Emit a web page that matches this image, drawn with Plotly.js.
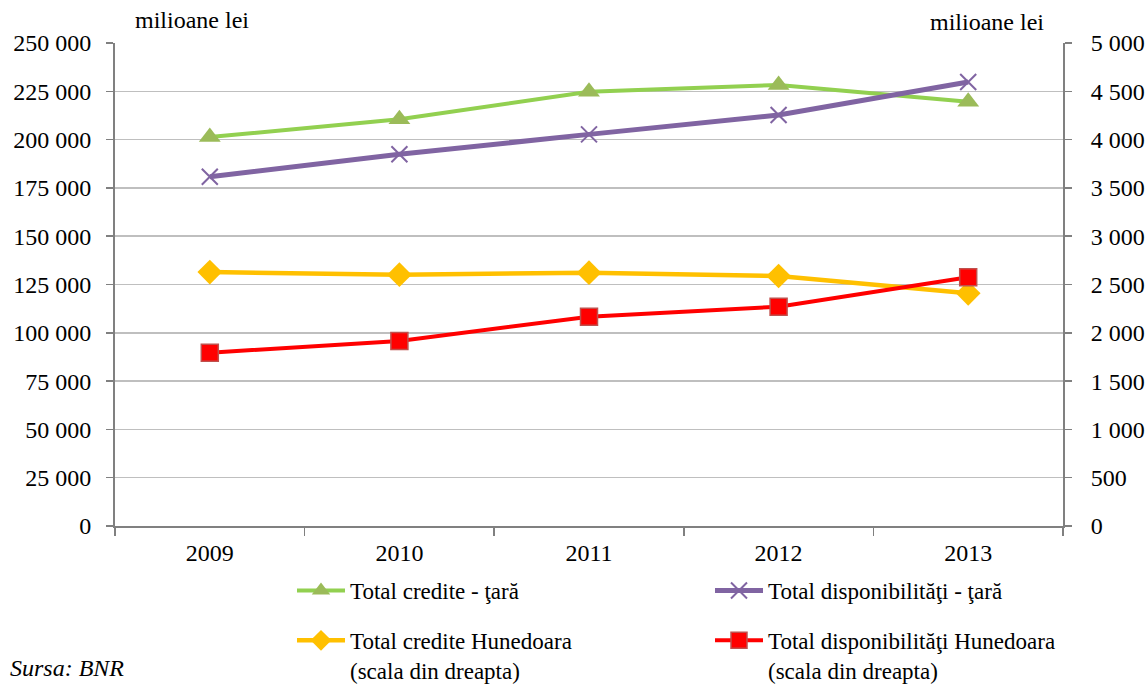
<!DOCTYPE html>
<html>
<head>
<meta charset="utf-8">
<script src="https://cdn.plot.ly/plotly-3.0.1.min.js"></script>
<style>
html,body{margin:0;padding:0;background:#fff;}
#chart{width:1148px;height:686px;}
</style>
</head>
<body>
<div id="chart"></div>
<script>
const years = ['2009', '2010', '2011', '2012', '2013'];
const crediteTara = [201300, 210500, 224800, 228300, 219600];
const disponibilitatiTara = [180800, 192400, 202700, 212700, 229800];
const crediteHunedoara = [2629, 2602, 2622, 2588, 2409];
const disponibilitatiHunedoara = [1794, 1915, 2167, 2270, 2574];
const seriesNames = [
  'Total credite - ţară',
  'Total disponibilităţi - ţară',
  'Total credite Hunedoara<br>(scala din dreapta)',
  'Total disponibilităţi Hunedoara<br>(scala din dreapta)'
];

const FONT = 'Liberation Serif';
const FS = 24;
const LFS = 23;

const traces = [
  {
    x: years, y: crediteTara, name: seriesNames[0], type: 'scatter', mode: 'lines+markers',
    legend: 'legend', legendgroup: 'a',
    line: {color: '#92D050', width: 4},
    marker: {symbol: 'triangle-up', size: 19, color: '#9BBB59', line: {width: 0}}
  },
  {
    x: years, y: disponibilitatiTara, name: seriesNames[1], type: 'scatter', mode: 'lines+markers',
    legend: 'legend2', legendgroup: 'b',
    line: {color: '#8064A2', width: 5},
    marker: {symbol: 'x-thin', size: 16, color: '#8064A2', line: {color: '#8064A2', width: 2}}
  },
  {
    x: years, y: crediteHunedoara, name: seriesNames[2], type: 'scatter', mode: 'lines+markers', yaxis: 'y2',
    legend: 'legend', legendgroup: 'c',
    line: {color: '#FFC000', width: 4.5},
    marker: {symbol: 'diamond', size: 19, color: '#FFC000', line: {width: 0}}
  },
  {
    x: years, y: disponibilitatiHunedoara, name: seriesNames[3], type: 'scatter', mode: 'lines+markers', yaxis: 'y2',
    legend: 'legend2', legendgroup: 'd',
    line: {color: '#FF0000', width: 4},
    marker: {symbol: 'square', size: 17, color: '#FF0000', line: {color: '#C0504D', width: 1.5}}
  }
];

const legendCommon = {
  orientation: 'v',
  yref: 'container',
  y: 1 - 569 / 686, yanchor: 'top',
  valign: 'top',
  tracegroupgap: 17,
  itemwidth: 48,
  font: {family: FONT, size: LFS, color: '#000'},
  bgcolor: 'rgba(0,0,0,0)'
};

const layout = {
  width: 1148, height: 686,
  margin: {l: 115, r: 85, t: 43, b: 160},
  paper_bgcolor: '#fff', plot_bgcolor: '#fff',
  separators: ', ',
  font: {family: FONT, size: FS, color: '#000'},
  showlegend: true,
  xaxis: {
    type: 'category',
    range: [-0.5, 4.5],
    tickson: 'boundaries',
    ticks: 'outside', ticklen: 8, tickcolor: '#808080', tickwidth: 1.5,
    ticklabelstandoff: 4,
    showgrid: false, zeroline: false,
    showline: true, linecolor: '#808080', linewidth: 2,
    tickfont: {family: FONT, size: FS, color: '#000'}
  },
  yaxis: {
    range: [0, 250000], dtick: 25000, tick0: 0,
    tickformat: ',d',
    ticks: 'outside', ticklen: 7, tickcolor: '#808080', tickwidth: 1.5,
    ticklabelstandoff: 10,
    showgrid: true, gridcolor: '#BFBFBF', gridwidth: 1.5,
    zeroline: false,
    showline: true, linecolor: '#808080', linewidth: 2,
    tickfont: {family: FONT, size: FS, color: '#000'}
  },
  yaxis2: {
    overlaying: 'y', side: 'right',
    range: [0, 5000], dtick: 500, tick0: 0,
    tickformat: ',d',
    ticks: 'outside', ticklen: 7, tickcolor: '#808080', tickwidth: 1.5,
    ticklabelstandoff: 14,
    showgrid: false, zeroline: false,
    showline: true, linecolor: '#808080', linewidth: 2,
    tickfont: {family: FONT, size: FS, color: '#000'}
  },
  legend: Object.assign({}, legendCommon, {x: (292 - 115) / 948, xanchor: 'left'}),
  legend2: Object.assign({}, legendCommon, {x: (710 - 115) / 948, xanchor: 'left'}),
  annotations: [
    {text: 'milioane lei', xref: 'paper', yref: 'paper', x: (192 - 115) / 948, y: 1 + (43 - 20) / 483,
     xanchor: 'center', yanchor: 'middle', showarrow: false, font: {family: FONT, size: FS, color: '#000'}},
    {text: 'milioane lei', xref: 'paper', yref: 'paper', x: (987 - 115) / 948, y: 1 + (43 - 22) / 483,
     xanchor: 'center', yanchor: 'middle', showarrow: false, font: {family: FONT, size: FS, color: '#000'}},
    {text: '<i>Sursa: BNR</i>', xref: 'paper', yref: 'paper', x: (8 - 115) / 948, y: -(668 - 526) / 483,
     xanchor: 'left', yanchor: 'middle', showarrow: false, font: {family: FONT, size: FS, color: '#000'}}
  ]
};

Plotly.newPlot('chart', traces, layout, {displayModeBar: false, staticPlot: true});
</script>
</body>
</html>
